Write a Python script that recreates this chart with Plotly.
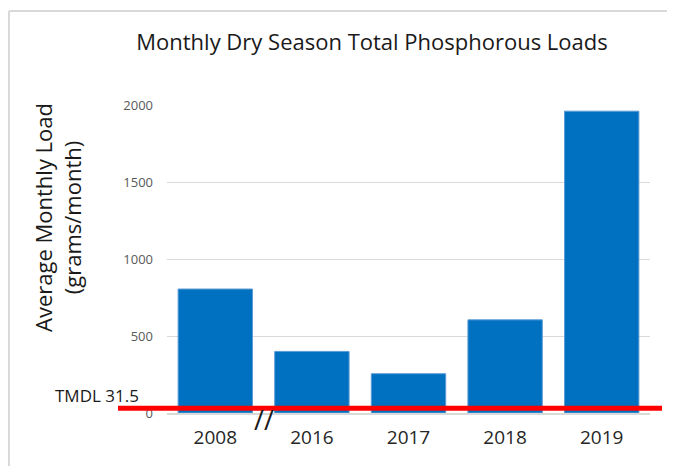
import plotly.graph_objects as go

years = ["2008", "2016", "2017", "2018", "2019"]
loads = [805, 400, 255, 605, 1960]
tmdl = 31.5
y_ticks = [0, 500, 1000, 1500, 2000]

# page offset (browser body margin)
OFF = 8
W, H = 675 - OFF, 466 - OFF
# plot area in page pixels
PL, PR, PT, PB = 167, 650, 105, 413
L, R, T, B = PL - OFF, W - (PR - OFF), PT - OFF, H - (PB - OFF)
pw, ph = PR - PL, PB - PT

FONT = "Open Sans, Liberation Sans, sans-serif"

def px(x):
    return (x - PL) / pw

def py(y):
    return (PB - y) / ph

fig = go.Figure()
fig.add_trace(go.Bar(
    x=years, y=loads,
    marker=dict(color="#0070C0", line=dict(color="#5B9BD5", width=1)),
    hoverinfo="skip",
))

fig.update_layout(
    width=W, height=H,
    margin=dict(l=L, r=R, t=T, b=B),
    paper_bgcolor="white", plot_bgcolor="white",
    showlegend=False,
    bargap=0.23,
    title=dict(
        text="Monthly Dry Season Total Phosphorous Loads",
        x=(372 - OFF) / W, xanchor="center", xref="container",
        y=1 - (42 - OFF) / H, yanchor="middle", yref="container",
        font=dict(family=FONT, size=22, color="#1a1a1a"),
    ),
    xaxis=dict(
        type="category",
        showgrid=False, showline=True, linecolor="#d9d9d9", linewidth=2,
        ticks="", ticklen=0,
        tickfont=dict(family=FONT, size=19, color="#262626"),
        ticklabelstandoff=6,
    ),
    yaxis=dict(
        range=[0, 2000],
        tickvals=y_ticks,
        showgrid=True, gridcolor="#d9d9d9", gridwidth=1,
        zeroline=False,
        showline=False,
        tickfont=dict(family=FONT, size=13, color="#595959"),
        ticklabelstandoff=13,
    ),
)

# y axis title (two lines)
fig.add_annotation(
    text="Average Monthly Load<br>(grams/month)",
    xref="paper", yref="paper",
    x=px(57), y=py(218),
    showarrow=False, textangle=-90,
    font=dict(family=FONT, size=22, color="#1a1a1a"),
    xanchor="center", yanchor="middle",
)

# TMDL line
fig.add_shape(
    type="line", xref="paper", yref="y",
    x0=px(118), x1=px(662), y0=tmdl, y1=tmdl,
    line=dict(color="#FF0000", width=5),
)
fig.add_annotation(
    text="TMDL " + str(tmdl),
    xref="paper", yref="paper",
    x=px(141), y=py(395),
    showarrow=False, xanchor="right", yanchor="middle",
    font=dict(family=FONT, size=17, color="#1a1a1a"),
)

# axis break mark
fig.add_annotation(
    text="//", xref="x", yref="paper",
    x=0.5, y=py(419),
    showarrow=False, xanchor="center", yanchor="middle",
    font=dict(family=FONT, size=27, color="#1a1a1a"),
)

# outer frame (top and left edges)
fig.add_shape(
    type="line", xref="paper", yref="paper",
    x0=px(OFF + 1), x1=px(OFF + 1), y0=py(470), y1=py(11),
    line=dict(color="#d9d9d9", width=2), layer="below",
)
fig.add_shape(
    type="line", xref="paper", yref="paper",
    x0=px(OFF + 1), x1=px(680), y0=py(11), y1=py(11),
    line=dict(color="#d9d9d9", width=2), layer="below",
)

fig.write_html("out.html", config={"displayModeBar": False})
